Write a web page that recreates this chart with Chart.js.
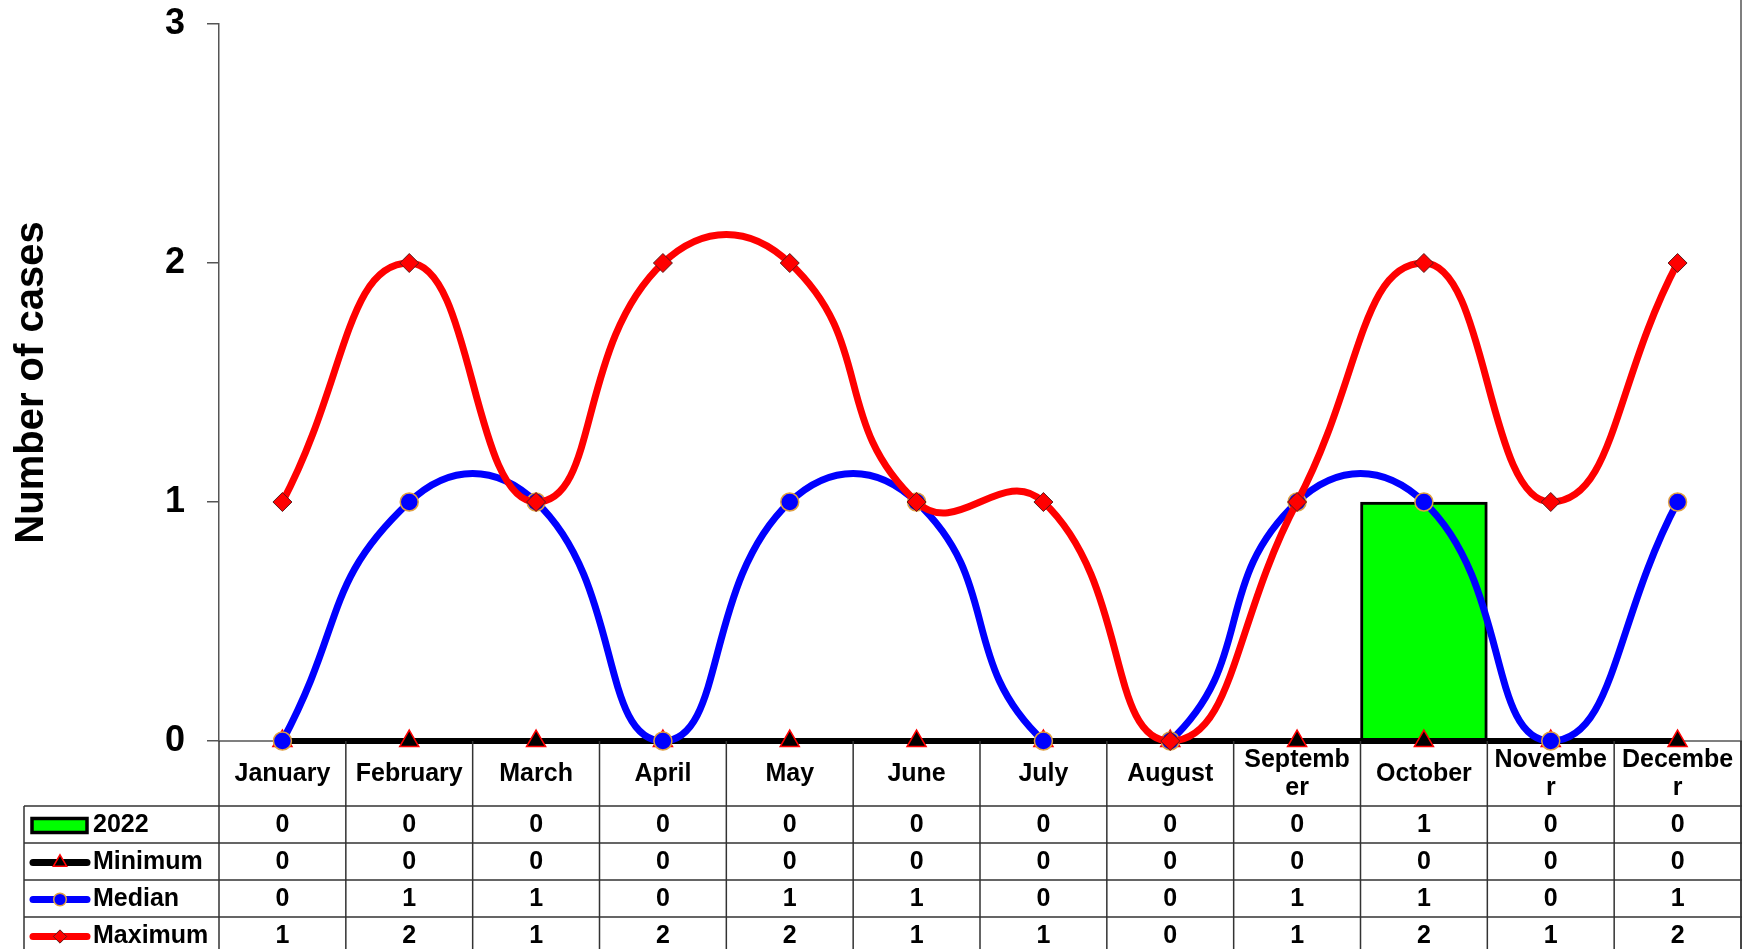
<!DOCTYPE html>
<html>
<head>
<meta charset="utf-8">
<script src="https://cdn.jsdelivr.net/npm/chart.js@4.4.0/dist/chart.umd.min.js"></script>
<style>
  body { margin: 0; background: #fff; }
  canvas { display: block; }
</style>
</head>
<body>
<canvas id="casesChart" width="1742" height="949"></canvas>
<script>
// values
const months = ['January', 'February', 'March', 'April', 'May', 'June', 'July', 'August',
  ['Septemb', 'er'], 'October', ['Novembe', 'r'], ['Decembe', 'r']];
const cases2022 = [0, 0, 0, 0, 0, 0, 0, 0, 0, 1, 0, 0];
const minimum = [0, 0, 0, 0, 0, 0, 0, 0, 0, 0, 0, 0];
const median = [0, 1, 1, 0, 1, 1, 0, 0, 1, 1, 0, 1];
const maximum = [1, 2, 1, 2, 2, 1, 1, 0, 1, 2, 1, 2];
const yMax = 3;

const FONT = '"Liberation Sans", Arial, sans-serif';
const lineColor = '#555';

// draws the data table (month row + legend rows) under the plot
const dataTable = {
  id: 'dataTable',
  beforeDatasetsDraw(chart) {
    const { ctx, chartArea } = chart;
    ctx.save();
    ctx.strokeStyle = lineColor;
    ctx.lineWidth = 1.5;
    ctx.beginPath();
    ctx.moveTo(chartArea.left, chartArea.bottom);
    ctx.lineTo(chart.width, chartArea.bottom);
    ctx.moveTo(chart.width - 1, 0);
    ctx.lineTo(chart.width - 1, chart.height);
    ctx.stroke();
    ctx.restore();
  },
  afterDraw(chart) {
    const { ctx, chartArea, scales } = chart;
    const x = scales.x;
    const cw = (chartArea.right - chartArea.left) / months.length;
    const headTop = chartArea.bottom;
    const headH = 65;
    const rowH = 37;
    const legLeft = 24;
    const bodyTop = headTop + headH;
    const datasets = chart.data.datasets;

    ctx.save();
    ctx.strokeStyle = '#333';
    ctx.lineWidth = 1.5;
    ctx.beginPath();
    for (let i = 0; i <= months.length; i++) {
      const bx = chartArea.left + i * cw;
      ctx.moveTo(bx, headTop);
      ctx.lineTo(bx, chart.height);
    }
    ctx.moveTo(legLeft, bodyTop);
    ctx.lineTo(legLeft, chart.height);
    for (let r = 0; r <= datasets.length; r++) {
      const y = bodyTop + r * rowH;
      ctx.moveTo(legLeft, y);
      ctx.lineTo(chart.width, y);
    }
    ctx.stroke();

    ctx.fillStyle = '#000';
    ctx.font = 'bold 25px ' + FONT;
    ctx.textAlign = 'center';
    ctx.textBaseline = 'middle';
    months.forEach((m, i) => {
      const cx = x.getPixelForValue(i);
      const cy = headTop + headH / 2 + 1;
      if (Array.isArray(m)) {
        ctx.fillText(m[0], cx, cy - 14);
        ctx.fillText(m[1], cx, cy + 14);
      } else {
        ctx.fillText(m, cx, cy);
      }
    });

    datasets.forEach((ds, r) => {
      const cy = bodyTop + r * rowH + rowH / 2 + 1;
      // legend key
      if (ds.type === 'bar') {
        ctx.fillStyle = ds.backgroundColor;
        ctx.strokeStyle = ds.borderColor;
        ctx.lineWidth = 3.5;
        ctx.fillRect(32, cy - 7, 55, 14);
        ctx.strokeRect(32, cy - 7, 55, 14);
      } else {
        ctx.strokeStyle = ds.borderColor;
        ctx.lineWidth = 7;
        ctx.lineCap = 'round';
        ctx.beginPath();
        ctx.moveTo(33, cy);
        ctx.lineTo(87, cy);
        ctx.stroke();
        ctx.lineCap = 'butt';
        ctx.fillStyle = ds.pointBackgroundColor;
        ctx.strokeStyle = ds.pointBorderColor;
        ctx.lineWidth = ds.pointBorderWidth;
        Chart.helpers.drawPoint(ctx, {
          pointStyle: ds.pointStyle, radius: ds.pointRadius * 0.7,
          rotation: 0, borderWidth: ds.pointBorderWidth
        }, 60, cy);
      }
      ctx.fillStyle = '#000';
      ctx.textAlign = 'left';
      ctx.fillText(ds.label, 93, cy);
      ctx.textAlign = 'center';
      ds.data.forEach((v, i) => {
        ctx.fillText(String(v), x.getPixelForValue(i), cy);
      });
    });
    ctx.restore();
  }
};

// a curve between two zero points falls below the axis in the original and is hidden
const hideFlatZero = {
  borderColor: (c) => (c.p0.parsed.y === 0 && c.p1.parsed.y === 0 ? 'rgba(0,0,0,0)' : undefined)
};

const lineBase = {
  type: 'line',
  tension: 0.5,
  borderWidth: 7,
  pointRadius: 9,
  pointHoverRadius: 9,
  clip: false
};

new Chart(document.getElementById('casesChart'), {
  type: 'bar',
  data: {
    labels: months,
    datasets: [
      {
        type: 'bar', label: '2022', data: cases2022, order: 4,
        backgroundColor: '#00FF00', borderColor: '#000', borderWidth: 3,
        barPercentage: 1, categoryPercentage: 1, clip: false
      },
      Object.assign({}, lineBase, {
        label: 'Minimum', data: minimum, order: 3, tension: 0,
        borderColor: '#000', borderWidth: 6,
        pointStyle: 'triangle', pointRadius: 11, pointHoverRadius: 11,
        pointBackgroundColor: '#000', pointBorderColor: '#FF0000', pointBorderWidth: 1.5
      }),
      Object.assign({}, lineBase, {
        label: 'Median', data: median, order: 2,
        borderColor: '#0000FF', segment: hideFlatZero,
        pointStyle: 'circle',
        pointBackgroundColor: '#0000FF', pointBorderColor: '#E0A040', pointBorderWidth: 1.5
      }),
      Object.assign({}, lineBase, {
        label: 'Maximum', data: maximum, order: 1,
        borderColor: '#FF0000', segment: hideFlatZero,
        pointStyle: 'rectRot', pointRadius: 9.5,
        pointBackgroundColor: '#FF0000', pointBorderColor: '#5A1A1A', pointBorderWidth: 1
      })
    ]
  },
  options: {
    responsive: false,
    animation: false,
    devicePixelRatio: 1,
    layout: { autoPadding: false, padding: { top: 24, right: 1, bottom: 208, left: 0 } },
    plugins: {
      legend: { display: false },
      tooltip: { enabled: false }
    },
    scales: {
      x: { display: false, offset: true },
      y: {
        min: 0, max: yMax,
        afterFit(scale) {
          scale.width = 219;
          scale.paddingTop = 0;
          scale.paddingBottom = 0;
        },
        ticks: {
          stepSize: 1, padding: 22, color: '#000',
          font: { family: FONT, size: 36, weight: 'bold' }
        },
        grid: { drawOnChartArea: false, tickLength: 12, color: lineColor, lineWidth: 1.5 },
        border: { display: true, color: lineColor, width: 1.5 },
        title: {
          display: true, text: 'Number of cases', color: '#000',
          font: { family: FONT, size: 40, weight: 'bold' },
          padding: { top: 8, bottom: 0 }
        }
      }
    }
  },
  plugins: [dataTable]
});
</script>
</body>
</html>
